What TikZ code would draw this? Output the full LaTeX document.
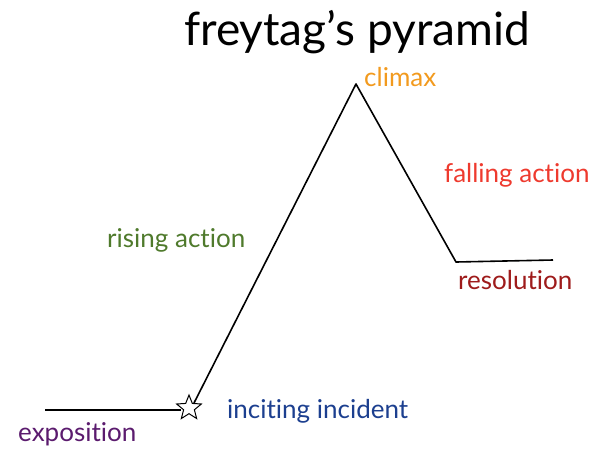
\documentclass[tikz,border=0pt]{standalone}
\usepackage{fontspec}
\setmainfont{Lato}[Ligatures=NoCommon]
\usetikzlibrary{shapes.geometric}
\definecolor{cclimax}{HTML}{F29A1E}
\definecolor{cfall}{HTML}{EE3A2E}
\definecolor{crise}{HTML}{4F7A2C}
\definecolor{cres}{HTML}{9E1B1B}
\definecolor{cinc}{HTML}{1C3F8F}
\definecolor{cexp}{HTML}{5B1B6E}
\begin{document}
\begin{tikzpicture}[x=1pt,y=-1pt,
  lbl/.style={font=\fontsize{26}{29}\selectfont, inner sep=0pt, anchor=base west},
  plot/.style={line width=1.6pt, line join=round}]
\useasboundingbox (0,0) rectangle (594,448);
\node[font=\fontsize{46}{50}\selectfont, inner sep=0pt, anchor=base] (title) at (357,45) {freytag’s pyramid};
\node[star, star points=5, star point ratio=2.3, draw, line width=1pt, fill=white, minimum size=26pt, inner sep=0pt] (star) at (189,408) {};
\coordinate (e0) at (45,410);
\coordinate (peak) at (356,84);
\coordinate (r0) at (456,262);
\coordinate (r1) at (553,260);
\draw[plot] (e0) -- (e0 -| star.west);
\draw[plot] (star.north east) -- (peak) -- (r0) -- (r1);
\node[lbl, text=cclimax] (climax) at (364,86) {climax};
\node[lbl, text=cfall] (fall) at (444,182) {falling action};
\node[lbl, text=crise] (rise) at (107,247) {rising action};
\node[lbl, text=cres] (res) at (458,289) {resolution};
\node[lbl, text=cinc] (inc) at (227,418) {inciting incident};
\node[lbl, text=cexp] (exp) at (18,441) {exposition};
\end{tikzpicture}
\end{document}
